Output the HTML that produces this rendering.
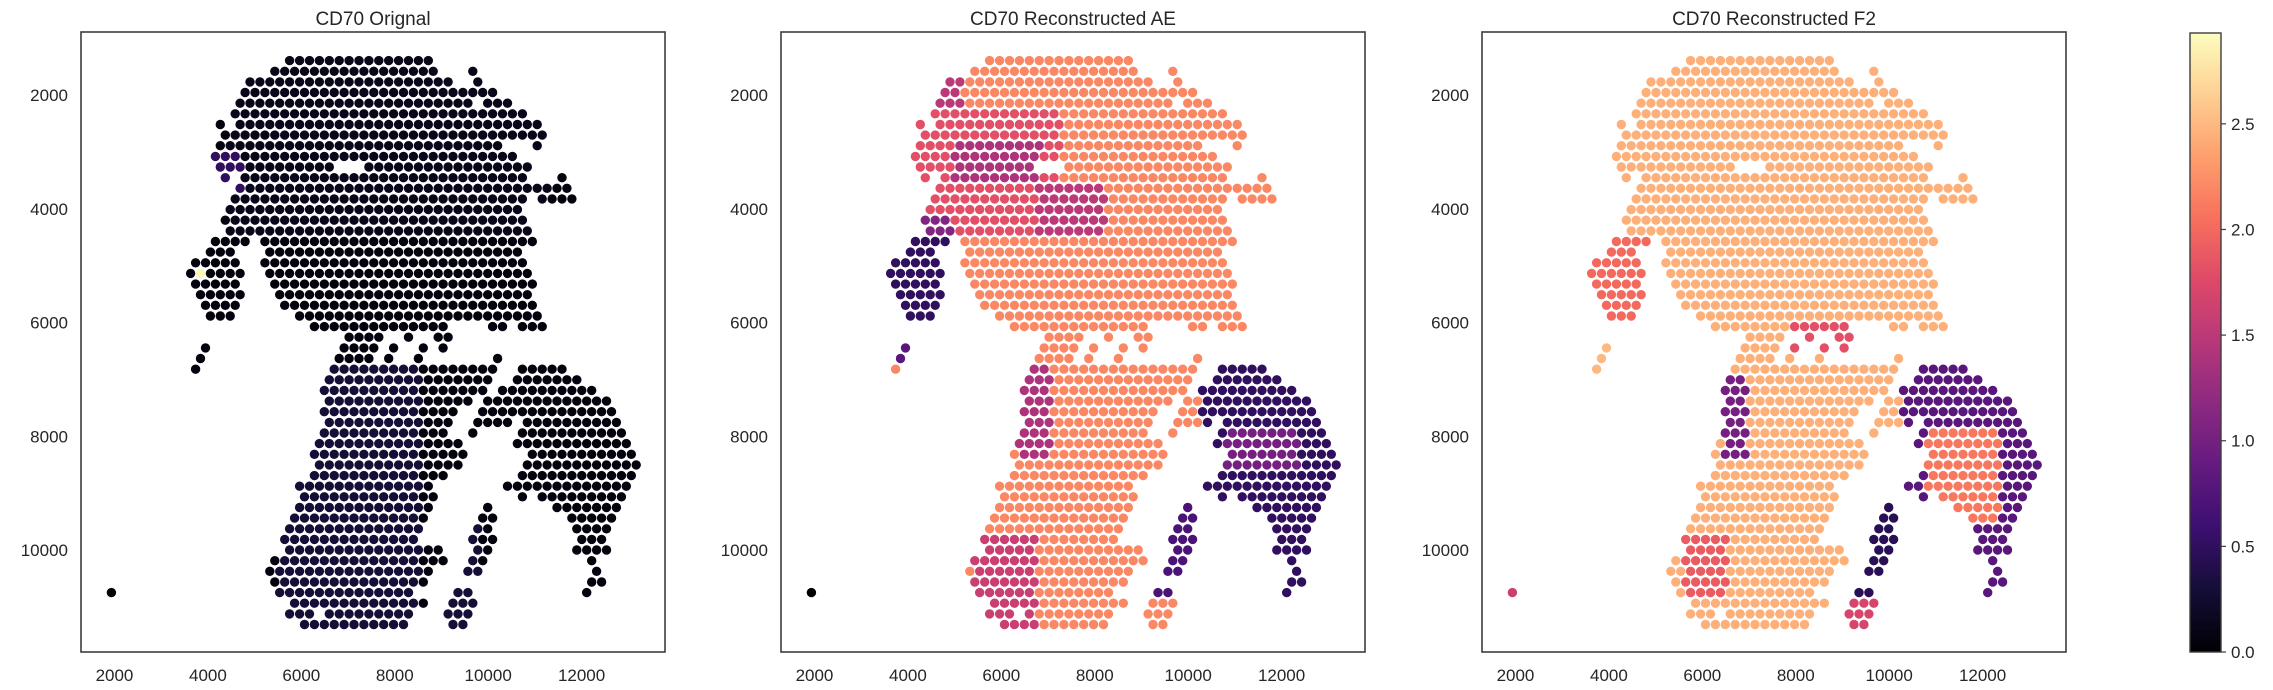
<!DOCTYPE html>
<html><head><meta charset="utf-8"><style>
html,body{margin:0;padding:0;background:#fff;}
svg{display:block;font-family:"Liberation Sans","DejaVu Sans",sans-serif;}
</style></head><body>
<svg id="fig" width="2273" height="690" viewBox="0 0 2273 690" xmlns="http://www.w3.org/2000/svg">
<defs><linearGradient id="magma" x1="0" y1="1" x2="0" y2="0">
<stop offset="0" stop-color="#000004"/><stop offset="0.1" stop-color="#140e36"/><stop offset="0.2" stop-color="#3b0f70"/><stop offset="0.3" stop-color="#641a80"/><stop offset="0.4" stop-color="#8c2981"/><stop offset="0.5" stop-color="#b73779"/><stop offset="0.6" stop-color="#de4968"/><stop offset="0.7" stop-color="#f7705c"/><stop offset="0.8" stop-color="#fe9f6d"/><stop offset="0.9" stop-color="#fecf92"/><stop offset="1" stop-color="#fcfdbf"/>
</linearGradient></defs>
</svg>
<script>
// ---- data ----
const panelTitles = ["CD70 Orignal", "CD70 Reconstructed AE", "CD70 Reconstructed F2"];
const xTicks = [2000, 4000, 6000, 8000, 10000, 12000];
const yTicks = [2000, 4000, 6000, 8000, 10000];
const cbarTicks = [0.0, 0.5, 1.0, 1.5, 2.0, 2.5];
const cbarMax = 2.93;
// spot grid: [row, hStart, hEnd]
const rowSegs = [
[0,20,48],[1,17,49],[1,57,57],[2,12,52],[2,58,58],[3,11,61],[4,10,56],[4,60,64],[5,9,67],
[6,6,6],[6,10,70],[7,7,71],[8,6,62],[8,70,70],[9,5,65],[10,6,28],[10,36,68],
[11,7,7],[11,11,67],[11,75,75],[12,10,76],[13,9,67],[13,71,77],[14,8,66],[15,7,67],[16,8,68],
[17,5,11],[17,15,69],[18,4,8],[18,16,66],[19,1,9],[19,15,67],[20,0,10],[20,16,68],
[21,1,9],[21,17,69],[22,2,10],[22,18,68],[23,3,9],[23,19,69],[24,4,8],[24,22,70],
[25,25,51],[25,61,63],[25,67,71],[26,32,38],[26,44,44],[26,50,52],
[27,3,3],[27,31,37],[27,41,41],[27,47,47],[27,51,51],
[28,2,2],[28,30,36],[28,40,40],[28,46,46],[28,62,62],
[29,1,1],[29,29,61],[29,67,75],[30,28,60],[30,66,78],[31,27,59],[31,63,81],
[32,28,56],[32,60,84],[33,27,53],[33,59,85],[34,28,52],[34,58,64],[34,68,86],
[35,27,51],[35,57,57],[35,67,87],[36,26,54],[36,66,88],[37,25,55],[37,69,89],
[38,26,54],[38,68,90],[39,25,51],[39,67,89],[40,22,48],[40,64,88],
[41,23,49],[41,67,67],[41,71,87],[42,22,48],[42,60,60],[42,74,86],
[43,21,47],[43,59,61],[43,77,85],[44,20,46],[44,58,60],[44,78,84],
[45,19,45],[45,57,61],[45,79,83],[46,20,50],[46,58,60],[46,78,84],
[47,17,51],[47,57,59],[47,81,81],[48,16,48],[48,56,58],[48,82,82],
[49,17,47],[49,81,83],[50,18,44],[50,54,56],[50,80,80],[50,-16,-16],
[51,21,47],[51,53,57],[52,20,24],[52,28,44],[52,52,56],[53,23,43],[53,53,55]
];
// per-panel base values
const baseValues = [0.05, 2.2, 2.45];
// regions: [rowStart,rowEnd,hStart,hEnd,value]; later entries override
const regions1 = [
[0,16,8,72,0.12],[9,12,4,10,0.5],[29,53,18,46,0.3],[41,53,52,58,0.3],[20,20,1,3,2.9]
];
const regions2 = [
[2,4,10,14,1.5],[5,16,5,34,1.8],[8,11,13,30,1.4],[12,16,30,43,1.5],[15,17,4,12,1.1],
[17,24,0,12,0.5],[25,28,0,4,0.8],[29,37,26,32,1.4],[45,53,17,29,1.6],
[29,50,63,92,0.5],[35,38,68,82,1.0],[42,50,54,62,0.7],[51,53,52,58,2.2],[50,50,-17,-15,0.0]
];
const regions3 = [
[17,24,0,12,2.0],[27,29,0,4,2.5],[25,27,40,52,1.8],[30,37,27,31,1.0],[45,50,19,27,1.9],
[29,50,63,92,0.8],[35,43,68,82,2.1],[42,50,54,62,0.45],[51,53,52,58,1.7],[50,50,-17,-15,1.6]
];
const panelRegions = [regions1, regions2, regions3];

// ---- layout / scales ----
const NS = "http://www.w3.org/2000/svg";
const svg = document.getElementById('fig');
const panelLeft = [81, 781, 1482], axW = 584, axTop = 32, axH = 620;
const xMin = 1283, xMax = 13786, yMin = 893, yMax = 11790;
const X0 = 3630, DX = 106, Y0 = 1396, DY = 187;
function sx(p, v){ return panelLeft[p] + (v - xMin) / (xMax - xMin) * axW; }
function sy(v){ return axTop + (v - yMin) / (yMax - yMin) * axH; }
const stops = ["#000004","#140e36","#3b0f70","#641a80","#8c2981","#b73779","#de4968","#f7705c","#fe9f6d","#fecf92","#fcfdbf"];
function hex(c){ return [parseInt(c.substr(1,2),16),parseInt(c.substr(3,2),16),parseInt(c.substr(5,2),16)]; }
function magma(v){
  let t = Math.max(0, Math.min(1, v / cbarMax)) * 10;
  let i = Math.min(9, Math.floor(t)), f = t - i;
  const a = hex(stops[i]), b = hex(stops[i+1]);
  return 'rgb(' + a.map((x,k)=>Math.round(x + (b[k]-x)*f)).join(',') + ')';
}
function mk(tag, attrs, parent){
  const e = document.createElementNS(NS, tag);
  for (const k in attrs) e.setAttribute(k, attrs[k]);
  (parent || svg).appendChild(e); return e;
}
function valueAt(p, r, h){
  let v = baseValues[p];
  for (const g of panelRegions[p]) if (r >= g[0] && r <= g[1] && h >= g[2] && h <= g[3]) v = g[4];
  return v;
}
const spots = [];
for (const s of rowSegs){
  const par = ((s[0] % 2) + 2) % 2;
  let h = s[1]; if (((h % 2) + 2) % 2 !== par) h++;
  for (; h <= s[2]; h += 2) spots.push([s[0], h]);
}

for (let p = 0; p < 3; p++){
  const g = mk('g', {});
  
  
  const t = mk('text', {x: panelLeft[p] + axW/2, y: 25, 'text-anchor': 'middle', 'font-size': 19, fill: '#262626'}, g);
  t.textContent = panelTitles[p];
  
  
  const sg = mk('g', {}, g);
  
  
  for (const sp of spots){
    const dx = X0 + sp[1] * DX, dy = Y0 + sp[0] * DY;
    const c = mk('circle', {cx: sx(p, dx).toFixed(1), cy: sy(dy).toFixed(1), r: 4.7, fill: magma(valueAt(p, sp[0], sp[1]))}, sg);
    
    
  }
  const fr = mk('rect', {x: panelLeft[p], y: axTop, width: axW, height: axH, fill: 'none', stroke: '#3d3d3d', 'stroke-width': 1.6}, g);
  
  
  for (const v of xTicks){
    const l = mk('text', {x: sx(p, v), y: 681, 'text-anchor': 'middle', 'font-size': 17, fill: '#262626'}, g);
    l.textContent = v;
    
    
  }
  for (const v of yTicks){
    const l = mk('text', {x: panelLeft[p] - 13, y: sy(v) + 6, 'text-anchor': 'end', 'font-size': 17, fill: '#262626'}, g);
    l.textContent = v;
    
    
  }
}
const cbX = 2190, cbW = 31, cbTop = 33, cbBot = 652;
const cb = mk('rect', {x: cbX, y: cbTop, width: cbW, height: cbBot - cbTop, fill: 'url(#magma)', stroke: '#3d3d3d', 'stroke-width': 1.4});


for (const v of cbarTicks){
  const y = cbBot - v / cbarMax * (cbBot - cbTop);
  const tk = mk('line', {x1: cbX + cbW, x2: cbX + cbW + 5, y1: y, y2: y, stroke: '#3d3d3d', 'stroke-width': 1.2});
  
  
  const l = mk('text', {x: cbX + cbW + 10, y: y + 6, 'font-size': 17, fill: '#262626'});
  l.textContent = v.toFixed(1);
  
  
}
</script>
</body></html>
